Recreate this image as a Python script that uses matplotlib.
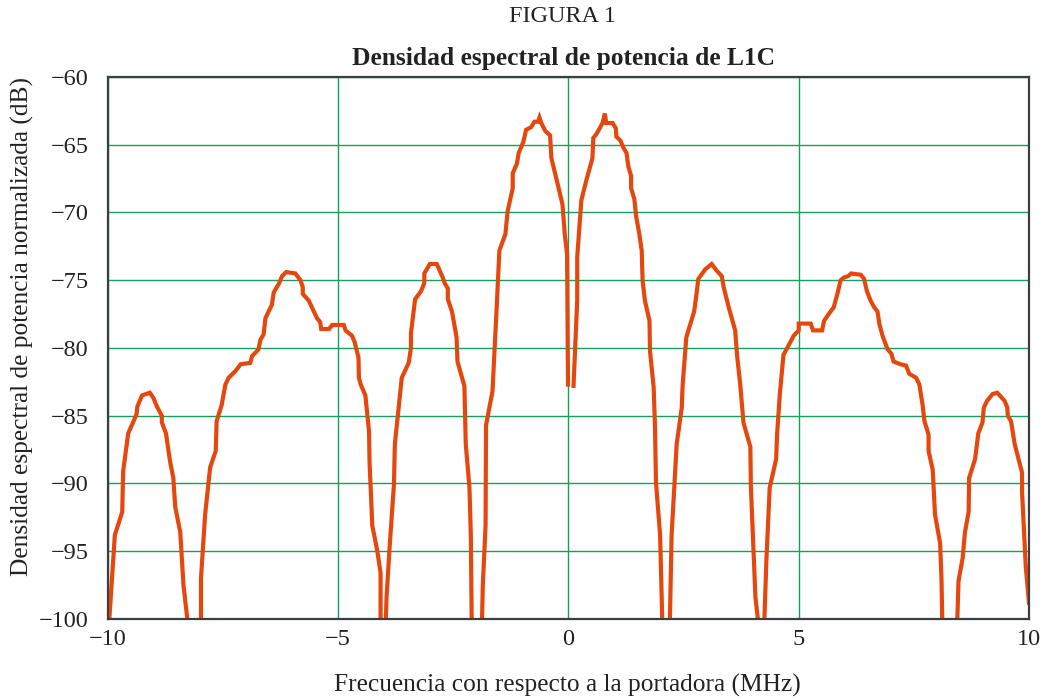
import numpy as np
import matplotlib

matplotlib.use("Agg")
import matplotlib.pyplot as plt

# Curva (MHz, dB). NaN = corte de la curva en 0 MHz.
frecuencia = [
    -9.98, -9.85, -9.69, -9.67, -9.56, -9.38, -9.36, -9.26, -9.09, -9.01,
    -8.94, -8.83, -8.83, -8.74, -8.65, -8.58, -8.54, -8.43, -8.36, -8.26, -8.12,
    -7.98, -7.98, -7.89, -7.78, -7.66, -7.64, -7.53, -7.45, -7.38, -7.23,
    -7.12, -6.91, -6.87, -6.73, -6.69, -6.62, -6.58, -6.44, -6.40, -6.28,
    -6.22, -6.13, -5.93, -5.82, -5.77, -5.77, -5.64, -5.53, -5.46, -5.39,
    -5.37, -5.20, -5.13, -4.88, -4.84, -4.70, -4.64, -4.56, -4.55, -4.51,
    -4.41, -4.33, -4.32, -4.26, -4.15, -4.08, -4.08, -4.02,
    -3.97, -3.95, -3.88, -3.79, -3.77, -3.68, -3.62, -3.47, -3.42, -3.42,
    -3.33, -3.20, -3.13, -3.13, -3.01, -2.86, -2.73, -2.69, -2.62, -2.62,
    -2.53, -2.43, -2.41, -2.26, -2.23, -2.15, -2.12, -2.10, -1.99,
    -1.88, -1.86, -1.80, -1.79, -1.65, -1.57, -1.50, -1.37, -1.32, -1.21,
    -1.21, -1.12, -1.08, -0.98, -0.92, -0.81, -0.74, -0.66, -0.63, -0.59,
    -0.50, -0.40, -0.37, -0.27, -0.13, -0.08, -0.03, -0.01, 0.05,
    0.11, 0.19, 0.19, 0.28, 0.39, 0.52, 0.54, 0.61, 0.74, 0.79,
    0.82, 0.96, 1.03, 1.04, 1.13, 1.19, 1.26, 1.30, 1.36, 1.36,
    1.43, 1.47, 1.54, 1.59, 1.61, 1.66, 1.76, 1.77, 1.85, 1.88,
    1.90, 1.99, 2.04, 2.12,
    2.20, 2.24, 2.35, 2.46, 2.48, 2.56, 2.73, 2.77, 2.82, 2.97,
    3.11, 3.22, 3.33, 3.37, 3.48, 3.62, 3.66, 3.73, 3.80, 3.95,
    3.96, 4.06, 4.13, 4.19,
    4.25, 4.30, 4.37, 4.51, 4.53, 4.59, 4.67, 4.75, 4.89, 5.00,
    5.00, 5.26, 5.31, 5.51, 5.55, 5.65, 5.76, 5.84, 5.91, 5.98,
    6.07, 6.14, 6.35, 6.42, 6.48, 6.56, 6.64, 6.71, 6.75, 6.82,
    6.93, 7.01, 7.06, 7.21, 7.33, 7.40, 7.55, 7.62, 7.69, 7.73,
    7.82, 7.82, 7.91, 7.96, 8.07, 8.10, 8.12, 8.28,
    8.44, 8.47, 8.56, 8.61, 8.69, 8.70, 8.83, 8.90, 8.99, 9.02,
    9.09, 9.21, 9.31, 9.47, 9.53, 9.54, 9.61, 9.69, 9.85, 9.85,
    9.93, 10.0,
]
densidad = [
    -100.5, -93.8, -92.1, -89.1, -86.3, -84.9, -84.3, -83.5, -83.3, -83.7,
    -84.3, -85.0, -85.5, -86.3, -88.4, -89.6, -91.7, -93.6, -97.5, -100.5, -115,
    -100.5, -97.0, -92.3, -88.8, -87.6, -85.4, -84.2, -82.7, -82.2, -81.7,
    -81.2, -81.1, -80.6, -80.1, -79.4, -79.0, -77.8, -76.8, -75.9, -75.2,
    -74.7, -74.4, -74.5, -75.0, -75.5, -76.0, -76.5, -77.3, -77.8, -78.1,
    -78.6, -78.6, -78.3, -78.3, -78.7, -79.1, -79.6, -80.7, -82.2, -82.7,
    -83.5, -86.2, -88.4, -93.1, -95.0, -96.6, -100.5, -115,
    -100.5, -98.4, -94.5, -90.1, -87.1, -84.2, -82.2, -81.1, -80.0, -78.9,
    -76.4, -75.8, -75.2, -74.5, -73.8, -73.8, -74.8, -75.2, -75.6, -76.4,
    -77.3, -79.2, -81.0, -82.8, -87.1, -90.3, -93.8, -100.5, -115,
    -100.5, -97.5, -93.1, -85.7, -83.2, -77.8, -72.8, -71.6, -69.9, -68.2,
    -67.1, -66.4, -65.6, -64.8, -63.9, -63.7, -63.3, -63.3, -63.0, -63.4,
    -64.0, -64.3, -66.0, -67.4, -69.4, -71.6, -73.1, -82.7, np.nan,
    -82.8, -76.5, -73.3, -69.1, -67.6, -66.0, -64.5, -64.2, -63.4, -62.7,
    -63.4, -63.4, -63.8, -64.4, -64.7, -65.2, -65.6, -66.6, -67.3, -68.2,
    -69.0, -70.3, -71.6, -72.8, -75.0, -76.5, -78.0, -80.2, -82.9, -85.9,
    -89.9, -93.8, -100.5, -115,
    -100.5, -93.8, -87.1, -84.4, -82.7, -79.2, -77.3, -76.3, -74.9, -74.2,
    -73.8, -74.3, -74.7, -75.5, -77.0, -78.7, -80.5, -82.7, -85.5, -87.3,
    -90.1, -98.4, -100.5, -115,
    -100.5, -95.5, -90.3, -88.2, -86.4, -83.4, -80.5, -80.0, -79.1, -78.7,
    -78.2, -78.2, -78.7, -78.7, -78.0, -77.5, -77.0, -76.0, -75.0, -74.8,
    -74.7, -74.5, -74.6, -74.9, -75.8, -76.5, -77.0, -77.3, -78.2, -79.1,
    -80.1, -80.4, -81.0, -81.2, -81.3, -81.9, -82.2, -82.7, -84.2, -85.4,
    -86.4, -87.6, -89.0, -92.3, -94.4, -97.0, -100.5, -115,
    -100.5, -97.2, -95.5, -93.6, -92.1, -89.6, -88.2, -86.3, -85.5, -84.4,
    -83.9, -83.4, -83.3, -83.9, -84.4, -85.0, -85.4, -87.1, -89.2, -90.6,
    -96.1, -98.8,
]

x_ticks = [-10, -5, 0, 5, 10]
y_ticks = [-100, -95, -90, -85, -80, -75, -70, -65, -60]

plt.rcParams["font.family"] = ["Liberation Serif", "DejaVu Serif"]

fig = plt.figure(figsize=(10.44, 6.98), dpi=100)
ax = fig.add_axes([0.1034, 0.1132, 0.8822, 0.7765])

ax.plot(frecuencia, densidad, color="#E5480E", linewidth=3.0, solid_joinstyle="miter")

ax.set_xlim(-10, 10)
ax.set_ylim(-100, -60)
ax.set_xticks(x_ticks)
ax.set_yticks(y_ticks)
ax.set_xticklabels(["\u2212" + str(-t) if t < 0 else str(t) for t in x_ticks])
ax.set_yticklabels(["\u2212" + str(-t) for t in y_ticks])
ax.tick_params(axis="both", length=0, labelsize=17.5, colors="#222222")
ax.tick_params(axis="y", pad=14)
ax.tick_params(axis="x", pad=7)

ax.grid(True, color="#13A05A", linewidth=1.0)
ax.set_axisbelow(True)
for s in ax.spines.values():
    s.set_color("#3A3F44")
    s.set_linewidth(1.6)

# etiquetas de ejes colocadas como en la figura original
fig.text(567 / 1044, 1 - 685 / 698, "Frecuencia con respecto a la portadora (MHz)",
         ha="center", va="center", fontsize=18.3, color="#222222")
fig.text(22 / 1044, 1 - 326 / 698, "Densidad espectral de potencia normalizada (dB)",
         ha="center", va="center", rotation=90, fontsize=18.3, color="#222222")

fig.text(562 / 1044, 1 - 17 / 698, "FIGURA 1", ha="center", va="center",
         fontsize=17.5, color="#222222")
fig.text(564 / 1044, 1 - 58 / 698, "Densidad espectral de potencia de L1C",
         ha="center", va="center", fontsize=18.4, fontweight="bold",
         color="#222222")

fig.savefig("out.png", dpi=100)
